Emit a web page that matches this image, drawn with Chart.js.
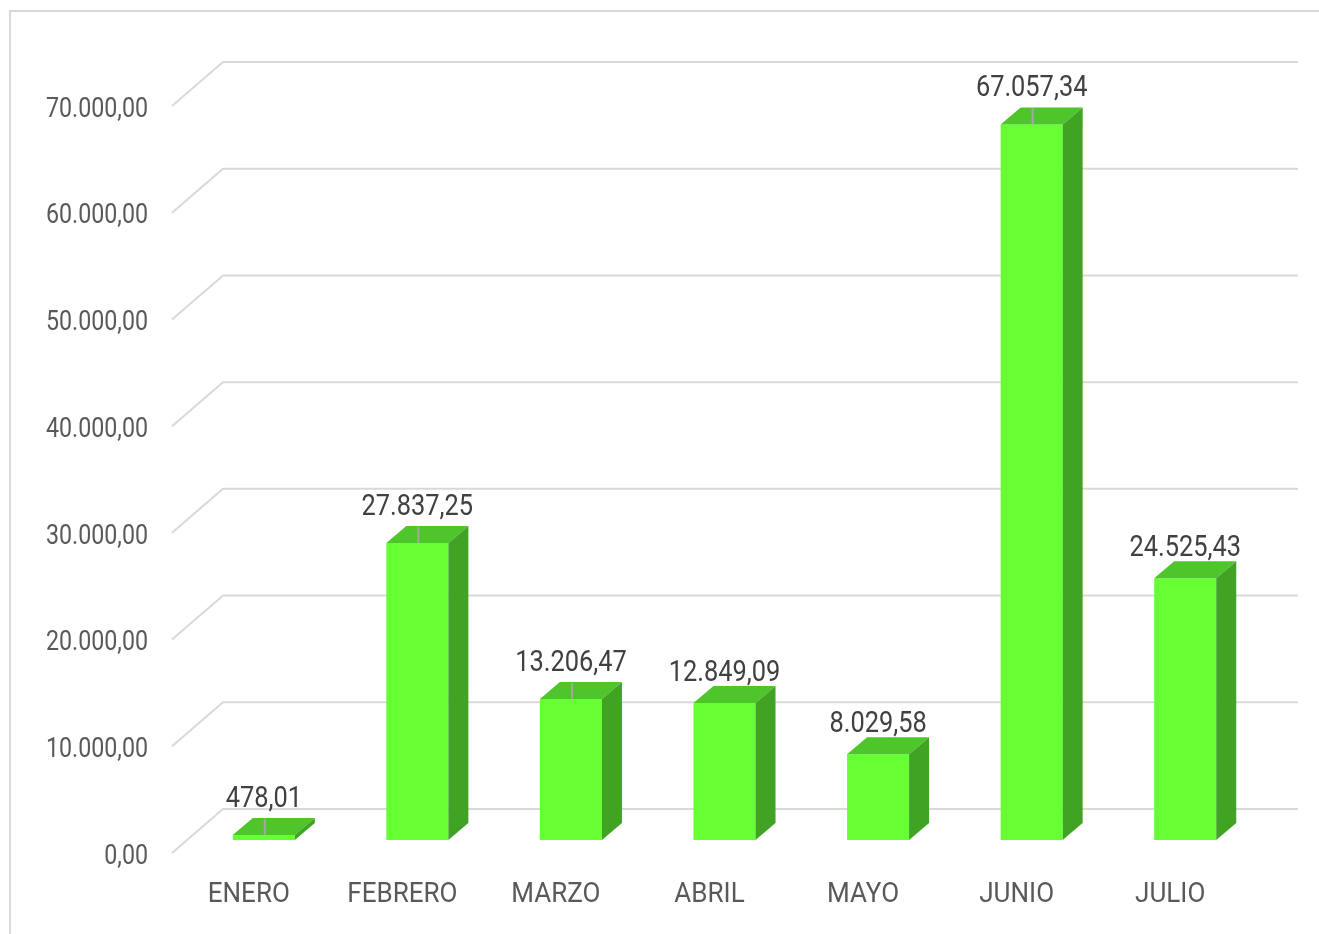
<!DOCTYPE html>
<html>
<head>
<meta charset="utf-8">
<script src="https://cdn.jsdelivr.net/npm/chart.js@4.4.0/dist/chart.umd.min.js"></script>
<style>
    html, body { margin: 0; padding: 0; background: #ffffff; overflow: hidden; }
    canvas { display: block; }
</style>
</head>
<body>
<canvas id="ventasChart" width="1319" height="934"></canvas>
<script>
// Chart data
const categories = ['ENERO', 'FEBRERO', 'MARZO', 'ABRIL', 'MAYO', 'JUNIO', 'JULIO'];
const values = [478.01, 27837.25, 13206.47, 12849.09, 8029.58, 67057.34, 24525.43];
const yTickMin = 0;
const yTickMax = 70000;
const yTickStep = 10000;
const leaderLines = [true, true, true, false, false, true, false];

const FONT = "Roboto, 'Noto Sans', sans-serif";

// es-style number: 70.000,00
function formatNumber(v) {
    const parts = v.toFixed(2).split('.');
    const int = parts[0].replace(/\B(?=(\d{3})+(?!\d))/g, '.');
    return int + ',' + parts[1];
}

// Condensed text (no narrow font installed, so squeeze horizontally)
function drawText(ctx, text, x, y, opts) {
    ctx.save();
    ctx.font = opts.size + 'px ' + FONT;
    ctx.fillStyle = opts.color;
    ctx.textAlign = opts.align;
    ctx.textBaseline = opts.baseline;
    ctx.translate(x, y);
    ctx.scale(opts.squeeze, 1);
    ctx.fillText(text, 0, 0);
    ctx.restore();
}

// 3D look: back wall, depth faces, labels
const WALL_DX = 51, WALL_DY = 44;   // front plane -> back wall
const BAR_SX = 15, BAR_SY = -13;    // bars sit a bit inside the box
const DEPTH_DX = 20, DEPTH_DY = 17; // bar depth

const threeD = {
    id: 'threeD',
    beforeDraw(chart) {
        const ctx = chart.ctx;
        ctx.save();
        ctx.strokeStyle = '#d9d9d9';
        ctx.lineWidth = 2;
        ctx.beginPath();
        ctx.moveTo(9, 11);
        ctx.lineTo(chart.width, 11);
        ctx.moveTo(10, 10);
        ctx.lineTo(10, chart.height);
        ctx.stroke();
        ctx.restore();
    },
    beforeDatasetsDraw(chart) {
        const ctx = chart.ctx;
        const y = chart.scales.y;
        const x = chart.scales.x;
        const area = chart.chartArea;
        ctx.save();
        ctx.strokeStyle = '#d9d9d9';
        ctx.lineWidth = 2;
        y.ticks.forEach(t => {
            const py = y.getPixelForValue(t.value);
            ctx.beginPath();
            ctx.moveTo(area.left, py);
            ctx.lineTo(area.left + WALL_DX, py - WALL_DY);
            ctx.lineTo(area.right + WALL_DX, py - WALL_DY);
            ctx.stroke();
        });
        ctx.restore();

        // axis labels
        y.ticks.forEach(t => {
            drawText(ctx, formatNumber(t.value), area.left - 24, y.getPixelForValue(t.value) + 4,
                { size: 27, color: '#595959', align: 'right', baseline: 'middle', squeeze: 0.86 });
        });
        categories.forEach((c, i) => {
            drawText(ctx, c, x.getPixelForValue(i), area.bottom + 42,
                { size: 28, color: '#595959', align: 'center', baseline: 'middle', squeeze: 0.93 });
        });

        // shift the bar fronts into the box
        ctx.save();
        ctx.translate(BAR_SX, BAR_SY);
    },
    afterDatasetsDraw(chart) {
        const ctx = chart.ctx;
        ctx.restore();

        const meta = chart.getDatasetMeta(0);
        meta.data.forEach((bar, i) => {
            const p = bar.getProps(['x', 'y', 'base', 'width'], true);
            const left = p.x - p.width / 2 + BAR_SX;
            const right = p.x + p.width / 2 + BAR_SX;
            const top = p.y + BAR_SY;
            const bottom = p.base + BAR_SY;

            ctx.save();
            // top face
            ctx.fillStyle = '#4ec52b';
            ctx.beginPath();
            ctx.moveTo(left, top);
            ctx.lineTo(left + DEPTH_DX, top - DEPTH_DY);
            ctx.lineTo(right + DEPTH_DX, top - DEPTH_DY);
            ctx.lineTo(right, top);
            ctx.closePath();
            ctx.fill();

            // side face
            ctx.fillStyle = '#40a323';
            ctx.beginPath();
            ctx.moveTo(right, top);
            ctx.lineTo(right + DEPTH_DX, top - DEPTH_DY);
            ctx.lineTo(right + DEPTH_DX, bottom - DEPTH_DY);
            ctx.lineTo(right, bottom);
            ctx.closePath();
            ctx.fill();

            const cx = (left + right) / 2;

            // leader line
            if (leaderLines[i]) {
                ctx.strokeStyle = '#a6a6a6';
                ctx.lineWidth = 2;
                ctx.beginPath();
                ctx.moveTo(cx + 1, top - DEPTH_DY + 1);
                ctx.lineTo(cx + 1, top);
                ctx.stroke();
            }
            ctx.restore();

            // data label
            const gap = leaderLines[i] ? 11 : 5;
            drawText(ctx, formatNumber(values[i]), cx, top - DEPTH_DY - gap,
                { size: 29, color: '#404040', align: 'center', baseline: 'alphabetic', squeeze: 0.875 });
        });
    }
};

const ctx = document.getElementById('ventasChart').getContext('2d');

new Chart(ctx, {
    type: 'bar',
    data: {
        labels: categories,
        datasets: [{
            data: values,
            backgroundColor: '#66ff33',
            borderWidth: 0,
            barPercentage: 0.404,
            categoryPercentage: 1,
            clip: false
        }]
    },
    options: {
        responsive: false,
        animation: false,
        devicePixelRatio: 1,
        layout: {
            padding: { top: 106, right: 72, bottom: 0, left: 12 }
        },
        plugins: {
            legend: { display: false },
            tooltip: { enabled: false }
        },
        scales: {
            x: {
                grid: { display: false, drawTicks: false },
                border: { display: false },
                ticks: { display: false },
                afterFit: (scale) => { scale.height = 81; }
            },
            y: {
                min: yTickMin,
                max: yTickMax,
                grid: { display: false, drawTicks: false },
                border: { display: false },
                ticks: { display: false, stepSize: yTickStep },
                afterFit: (scale) => { scale.width = 160; }
            }
        }
    },
    plugins: [threeD]
});
</script>
</body>
</html>
